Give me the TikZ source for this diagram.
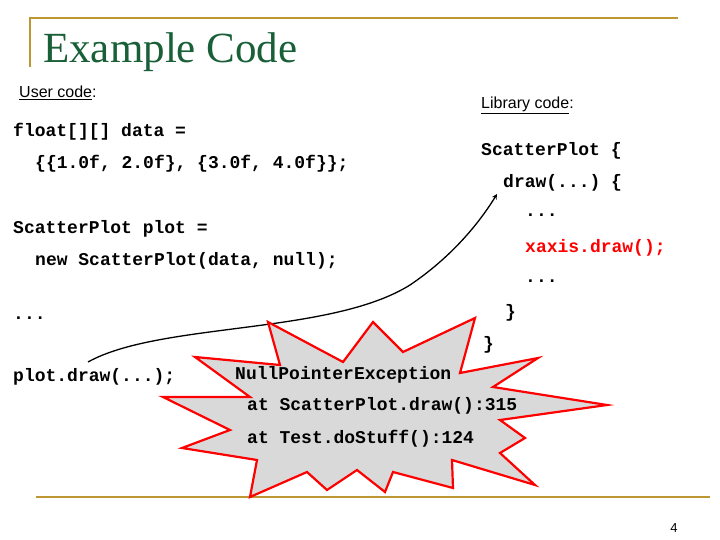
\documentclass[tikz,border=0pt]{standalone}
\usepackage{fontspec}
\setmainfont{Liberation Serif}
\setsansfont{Liberation Sans}
\setmonofont{Liberation Mono}
\definecolor{goldc}{RGB}{190,150,50}
\definecolor{titlec}{RGB}{25,95,55}
\begin{document}
\begin{tikzpicture}[x=1pt,y=-1pt,
  code/.style={anchor=west,inner sep=0pt,font=\fontsize{18}{20}\selectfont\ttfamily\bfseries},
  lbl/.style={anchor=west,inner sep=0pt,font=\fontsize{16}{19}\selectfont\sffamily},
  gold/.style={draw=goldc,line width=2.5pt}]
\useasboundingbox (0,0) rectangle (720,540);
\draw[gold] (30,67) -- (30,18) -- (678,18);
\draw[gold] (36,497) -- (710,497);
\node[anchor=west,inner sep=0pt,text=titlec,font=\fontsize{43}{46}\selectfont] (title) at (43,52) {Example Code};
\node[lbl] (uc) at (19,93) {\underline{User code}:};
\node[lbl] (lc) at (481,105) {\underline{Library code}:};
\node[code] (l1) at (13,132) {float[][] data =};
\node[code] (l2) at (35,164) {\{\{1.0f, 2.0f\}, \{3.0f, 4.0f\}\};};
\node[code] (l3) at (13,229) {ScatterPlot plot =};
\node[code] (l4) at (35,261) {new ScatterPlot(data, null);};
\node[code] (l5) at (13,318) {...};
\node[code] (l6) at (13,377) {plot.draw(...);};
\node[code] (r1) at (481,151) {ScatterPlot \{};
\node[code] (r2) at (503,183) {draw(...) \{};
\node[code] (r3) at (525,215) {...};
\node[code,text=red] (r4) at (525,248) {xaxis.draw();};
\node[code] (r5) at (525,281) {...};
\node[code] (r6) at (505,313) {\}};
\node[code] (r7) at (483,345) {\}};
\coordinate (s) at (88,362);
\coordinate (t) at (497,194);
\draw[line width=1.3pt,-stealth] (s) .. controls (160,322) and (330,335) .. (410,285) .. controls (450,258) and (478,225) .. (t);
\draw[line width=2.2pt,draw=red,fill=black!15,line join=miter]
 (268,322) -- (280,365) -- (195,357) -- (250,397) -- (163,397) -- (230,430) -- (182,448)
 -- (257,460) -- (250,497) -- (307,472) -- (327,490) -- (357,470) -- (385,492) -- (393,472)
 -- (453,488) -- (452,460) -- (535,485) -- (500,453) -- (525,438) -- (500,420) -- (607,405)
 -- (493,387) -- (538,358) -- (460,373) -- (475,318) -- (403,352) -- (373,322) -- (343,362) -- cycle;
\node[code] (e1) at (235,375) {NullPointerException};
\node[code] (e2) at (247,406) {at ScatterPlot.draw():315};
\node[code] (e3) at (247,439) {at Test.doStuff():124};
\node[anchor=center,font=\fontsize{13}{15}\selectfont\sffamily] (pg) at (674,528) {4};
\end{tikzpicture}
\end{document}
